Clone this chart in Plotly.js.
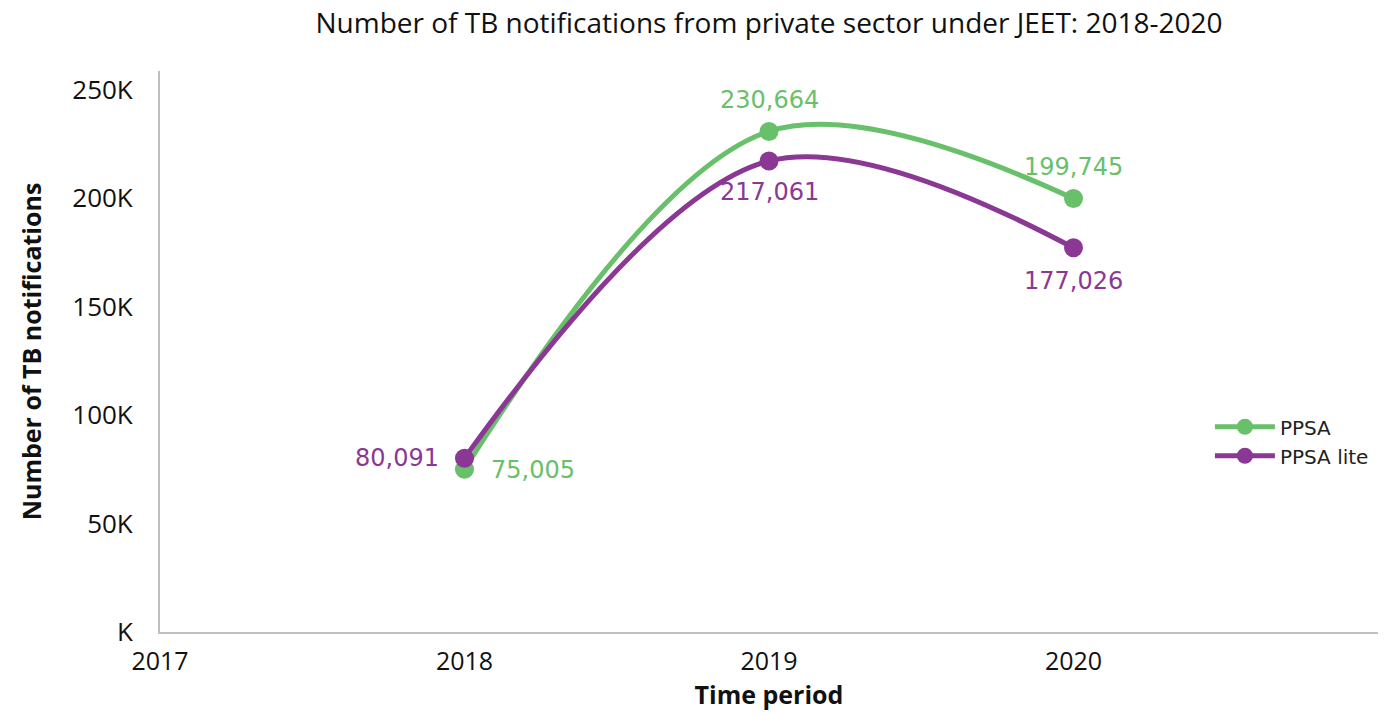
<!DOCTYPE html>
<html>
<head>
<meta charset="utf-8">
<script src="https://cdn.plot.ly/plotly-3.0.1.min.js"></script>
<style>html,body{margin:0;padding:0;background:#fff;}#chart{width:1392px;height:716px;}</style>
</head>
<body>
<div id="chart"></div>
<script>
const years = [2018, 2019, 2020];
const ppsa = [75005, 230664, 199745];
const ppsaLite = [80091, 217061, 177026];
const seriesNames = ["PPSA", "PPSA lite"];
const yTickVals = [0, 50000, 100000, 150000, 200000, 250000];
const yTickText = ["K", "50K", "100K", "150K", "200K", "250K"];
const xTickVals = [2017, 2018, 2019, 2020];

const green = "#69c06a";
const purple = "#8b3894";
const labelFont = "'DejaVu Sans', 'Noto Sans', sans-serif";
const axisFont = "'Open Sans', sans-serif";

function fmt(v){ return v.toLocaleString('en-US'); }

const traces = [
  {
    x: years, y: ppsa, name: seriesNames[0], type: 'scatter',
    mode: 'lines+markers',
    line: {color: green, width: 5, shape: 'spline', smoothing: 1},
    marker: {color: green, size: 19},
    cliponaxis: false
  },
  {
    x: years, y: ppsaLite, name: seriesNames[1], type: 'scatter',
    mode: 'lines+markers',
    line: {color: purple, width: 5, shape: 'spline', smoothing: 1},
    marker: {color: purple, size: 19},
    cliponaxis: false
  }
];

// label placement per point: [xanchor, xshift, yshift]
const ppsaPlace = [['left', 24, -1], ['center', 0, 31], ['center', 0, 32]];
const litePlace = [['right', -24, 0], ['center', 0, -31], ['center', 0, -33]];

const annotations = [];
years.forEach((yr, i) => {
  annotations.push({
    x: yr, y: ppsa[i], xref: 'x', yref: 'y', text: fmt(ppsa[i]), showarrow: false,
    xanchor: ppsaPlace[i][0], yanchor: 'middle', xshift: ppsaPlace[i][1], yshift: ppsaPlace[i][2],
    font: {family: labelFont, size: 24, color: green}
  });
  annotations.push({
    x: yr, y: ppsaLite[i], xref: 'x', yref: 'y', text: fmt(ppsaLite[i]), showarrow: false,
    xanchor: litePlace[i][0], yanchor: 'middle', xshift: litePlace[i][1], yshift: litePlace[i][2],
    font: {family: labelFont, size: 24, color: purple}
  });
});

const layout = {
  width: 1392, height: 716,
  margin: {l: 160, r: 14, t: 71, b: 84},
  paper_bgcolor: '#fff', plot_bgcolor: '#fff',
  title: {
    text: 'Number of TB notifications from private sector under JEET: 2018-2020',
    font: {family: axisFont, size: 28, color: '#111'},
    x: 0.5, xref: 'paper', y: 0.968, yref: 'container', xanchor: 'center', yanchor: 'middle'
  },
  xaxis: {
    range: [2017, 2021],
    tickvals: xTickVals,
    ticktext: xTickVals.map(String),
    showgrid: false, zeroline: false,
    showline: true, linecolor: '#bfbfbf', linewidth: 2,
    ticks: '', ticklabelstandoff: 6,
    tickfont: {family: axisFont, size: 25, color: '#111'},
    title: {text: '<b>Time period</b>', font: {family: axisFont, size: 25, color: '#111'}, standoff: 10}
  },
  yaxis: {
    range: [0, 258500],
    tickvals: yTickVals,
    ticktext: yTickText,
    showgrid: false, zeroline: false,
    showline: true, linecolor: '#bfbfbf', linewidth: 2,
    ticks: '', ticklabelstandoff: 20,
    tickfont: {family: axisFont, size: 26, color: '#111'},
    title: {text: '<b>Number of TB notifications</b>', font: {family: axisFont, size: 25, color: '#111'}, standoff: 24}
  },
  annotations: annotations,
  legend: {
    x: 0.862, y: 0.34, xanchor: 'left', yanchor: 'middle',
    font: {family: labelFont, size: 20, color: '#222'},
    bgcolor: 'rgba(0,0,0,0)', itemwidth: 60
  },
  showlegend: true
};

Plotly.newPlot('chart', traces, layout, {displayModeBar: false, staticPlot: true});
</script>
</body>
</html>
